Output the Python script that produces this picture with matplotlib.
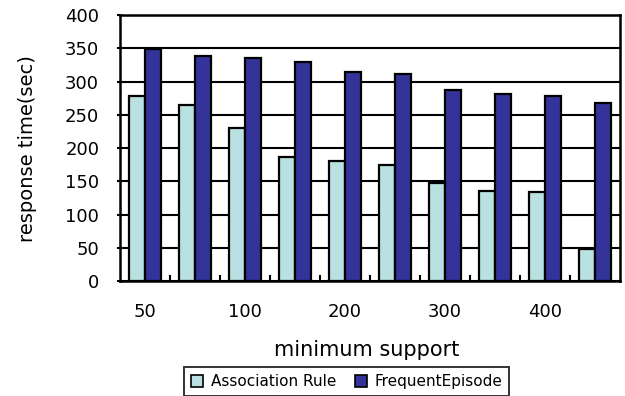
import numpy as np
import matplotlib.pyplot as plt
from matplotlib.patches import Patch

# minimum support groups (only every other one carries a label)
support_labels = ["50", "", "100", "", "200", "", "300", "", "400", ""]
assoc_rule = [279, 265, 230, 186, 180, 174, 148, 136, 134, 48]
frequent_episode = [349, 338, 335, 330, 314, 311, 288, 282, 279, 268]

light = "#b9e1e1"
dark = "#333399"


def main():
    fig = plt.figure(figsize=(6.25, 3.96), dpi=100)
    ax = fig.add_axes([0.192, 0.290, 0.8, 0.672])

    x = np.arange(len(support_labels))
    w = 0.32
    ax.bar(x - w / 2, assoc_rule, w, color=light, edgecolor="black", linewidth=1.6, zorder=3)
    ax.bar(x + w / 2, frequent_episode, w, color=dark, edgecolor="black", linewidth=1.6, zorder=3)

    ax.set_xlim(-0.5, len(support_labels) - 0.5)
    ax.set_ylim(0, 400)
    ax.set_yticks(np.arange(0, 401, 50))
    ax.yaxis.grid(True, color="black", linewidth=1.5)
    ax.set_axisbelow(True)

    ax.set_xticks(x)
    ax.set_xticklabels(support_labels, fontsize=13)
    ax.set_xticks(np.arange(0.5, len(support_labels) - 0.5, 1.0), minor=True)
    ax.tick_params(axis="x", which="major", length=0, pad=16)
    ax.tick_params(axis="x", which="minor", direction="in", length=4, width=1.5)
    ax.tick_params(axis="y", direction="out", length=2, width=1.5, pad=13, labelsize=13)

    for s in ax.spines.values():
        s.set_linewidth(1.8)
        s.set_color("black")

    ax.set_ylabel("response time(sec)", fontsize=14)
    ax.yaxis.set_label_coords(-0.165, 0.5)
    fig.text(0.587, 0.116, "minimum support", fontsize=15, ha="center", va="center")

    handles = [
        Patch(facecolor=light, edgecolor="black", linewidth=1.2, label="Association Rule"),
        Patch(facecolor=dark, edgecolor="black", linewidth=1.2, label="FrequentEpisode"),
    ]
    leg = fig.legend(handles=handles, loc="upper center", bbox_to_anchor=(0.555, 0.073),
                     borderaxespad=0, ncol=2, fontsize=11, frameon=True, fancybox=False,
                     handlelength=0.8, handleheight=0.8, handletextpad=0.5,
                     columnspacing=1.2, borderpad=0.45)
    leg.get_frame().set_edgecolor("black")
    leg.get_frame().set_linewidth(1.4)

    fig.savefig("out.png", dpi=100)
    plt.close(fig)


if __name__ == "__main__":
    main()
